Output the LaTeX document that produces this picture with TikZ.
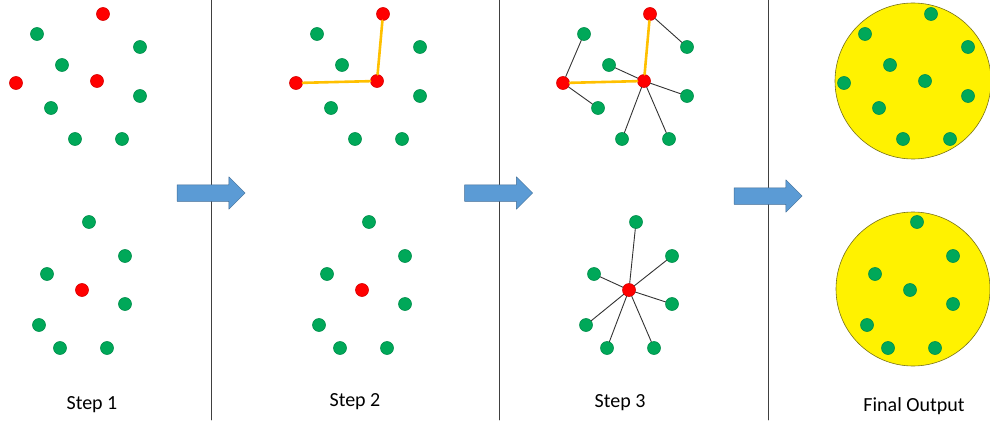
\documentclass[tikz,border=0pt]{standalone}
\usepackage{fontspec}
\setmainfont{Carlito}
\usetikzlibrary{shapes.arrows}
\definecolor{dotgreen}{RGB}{0,168,89}
\definecolor{dotred}{RGB}{255,0,0}
\definecolor{linkyellow}{RGB}{255,192,0}
\definecolor{arrowblue}{RGB}{91,155,213}
\tikzset{
  dot/.style={circle, inner sep=0pt, minimum size=13pt, draw=#1!85!black, line width=0.6pt, fill=#1},
  link/.style={line width=0.9pt, black!80},
  goldlink/.style={line width=2.6pt, linkyellow},
  cluster/.style={circle, fill=yellow, draw=olive!80!black, line width=0.6pt},
  flow/.style={single arrow, fill=arrowblue, draw=arrowblue!70!black, line width=0.5pt, inner sep=8pt, single arrow head extend=8pt, minimum height=68pt},
  caption/.style={font=\fontsize{20}{24}\selectfont}
}
\begin{document}
\begin{tikzpicture}[x=1pt, y=-1pt, line join=round, line cap=round]
    \useasboundingbox (0,0) rectangle (990,425);
    % separators
    \foreach \sx in {211,499,768}\draw[line width=0.9pt, black!75] (\sx,0)--(\sx,420);
    % steps 1 to 3
    \foreach \dx/\p in {0/a,280/b,547/c}{
      \begin{scope}[shift={(\dx,0)}, name prefix=\p-]
        \foreach \n/\x/\y/\c in {1/103/14/dotred,2/37/34/dotgreen,3/140/47/dotgreen,4/62/65/dotgreen,5/16/83/dotred,
                                 6/97/81/dotred,7/140/96/dotgreen,8/51/108/dotgreen,9/75/139/dotgreen,10/122/139/dotgreen}
          \node[dot=\c] (t\n) at (\x,\y) {};
        \foreach \n/\x/\y/\c in {1/89/222/dotgreen,2/125/256/dotgreen,3/47/274/dotgreen,4/82/290/dotred,
                                 5/125/304/dotgreen,6/39/325/dotgreen,7/60/348/dotgreen,8/107/348/dotgreen}
          \node[dot=\c] (b\n) at (\x,\y) {};
      \end{scope}}
    % step 2: red points joined
    \draw[goldlink] (b-t5)--(b-t6)--(b-t1);
    % step 3: every point to its nearest red
    \draw[goldlink] (c-t5)--(c-t6)--(c-t1);
    \draw[link] (c-t1)--(c-t3);
    \foreach \g in {2,8}\draw[link] (c-t5)--(c-t\g);
    \foreach \g in {4,7,9,10}\draw[link] (c-t6)--(c-t\g);
    \foreach \g in {1,2,3,5,6,7,8}\draw[link] (c-b4)--(c-b\g);
    % final output
    \node[cluster, minimum size=156pt] (fo1) at (913,81) {};
    \node[cluster, minimum size=154pt] (fo2) at (913,289) {};
    \begin{scope}[shift={(828,0)}, name prefix=d-]
      \foreach \n/\x/\y in {1/103/14,2/37/34,3/140/47,4/62/65,5/16/83,6/97/81,7/140/96,8/51/108,9/75/139,10/122/139}
        \node[dot=dotgreen] (t\n) at (\x,\y) {};
      \foreach \n/\x/\y in {1/89/222,2/125/256,3/47/274,4/82/290,5/125/304,6/39/325,7/60/348,8/107/348}
        \node[dot=dotgreen] (b\n) at (\x,\y) {};
    \end{scope}
    % arrows
    \node[flow] (arr1) at (207,193) {};
    \node[flow] (arr2) at (494.5,193) {};
    \node[flow] (arr3) at (764,196) {};
    % captions
    \node[caption] (cap1) at (92,405) {Step 1};
    \node[caption] (cap2) at (355,402) {Step 2};
    \node[caption] (cap3) at (620,403) {Step 3};
    \node[caption] (cap4) at (914,406) {Final Output};
\end{tikzpicture}
\end{document}
